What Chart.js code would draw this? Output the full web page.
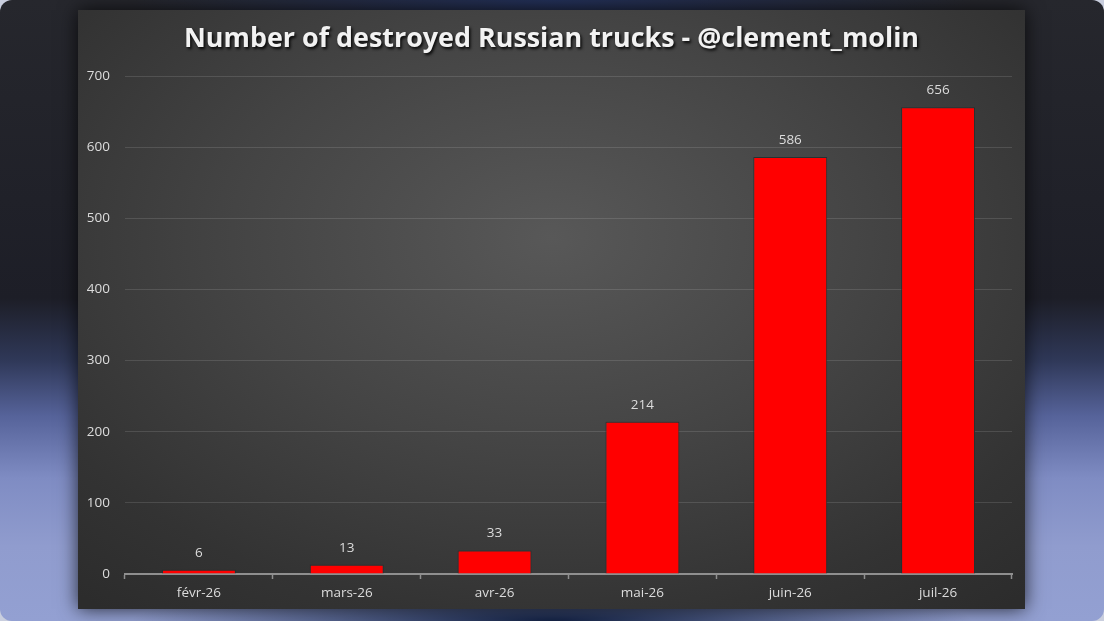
<!DOCTYPE html>
<html>
<head>
<meta charset="utf-8">
<script src="https://cdn.jsdelivr.net/npm/chart.js@4/dist/chart.umd.min.js"></script>
<style>
  html, body { margin:0; padding:0; width:1104px; height:621px; overflow:hidden; background:#c9cede; }
  #bg {
    position:absolute; left:0; top:0; width:1104px; height:621px; border-radius:12px;
    background:
      radial-gradient(ellipse 420px 60px at 50% 0%, rgba(35,50,95,0.9) 0%, rgba(35,50,95,0) 100%),
      radial-gradient(ellipse 420px 40px at 50% 100%, rgba(20,35,70,1) 0%, rgba(20,35,70,0) 100%),
      linear-gradient(to bottom, #26272d 0%, #1d1e27 48%, #2f3858 58%, #56639a 67%, #7f8cc3 77%, #909cce 88%, #93a0d2 100%);
  }
  #panel {
    position:absolute; left:78px; top:10px; width:947px; height:599px;
    background: radial-gradient(ellipse 75% 80% at 50% 38%, #585858 0%, #444444 45%, #333333 80%, #2c2c2c 100%);
    box-shadow: 0 0 18px rgba(0,0,0,0.75);
  }
  #panel canvas { display:block; }
</style>
</head>
<body>
<div id="bg"></div>
<div id="panel"><canvas id="c" width="947" height="599"></canvas></div>
<script>
const categories = ["févr-26", "mars-26", "avr-26", "mai-26", "juin-26", "juil-26"];
const truckValues = [6, 13, 33, 214, 586, 656];
const yTicks = [0, 100, 200, 300, 400, 500, 600, 700];
const chartTitle = "Number of destroyed Russian trucks - @clement_molin";

const titlePlugin = {
  id: 'shadowTitle',
  afterDraw(chart) {
    const ctx = chart.ctx;
    ctx.save();
    ctx.font = 'bold 26px "Open Sans"';
    const w = ctx.measureText(chartTitle).width;
    const target = 735;
    const sx = target / w;
    ctx.translate(chart.width / 2, 30);
    ctx.scale(sx, 1);
    ctx.textAlign = 'center';
    ctx.textBaseline = 'middle';
    ctx.shadowColor = 'rgba(0,0,0,0.9)';
    ctx.shadowBlur = 3;
    ctx.shadowOffsetX = 1.5;
    ctx.shadowOffsetY = 1.5;
    ctx.fillStyle = '#f2f2f2';
    ctx.fillText(chartTitle, 0, 0);
    ctx.restore();
  }
};

const labelPlugin = {
  id: 'valueLabels',
  afterDatasetsDraw(chart) {
    const ctx = chart.ctx;
    const meta = chart.getDatasetMeta(0);
    ctx.save();
    ctx.font = '13.5px "Open Sans"';
    ctx.fillStyle = '#dcdcdc';
    ctx.textAlign = 'center';
    ctx.textBaseline = 'middle';
    meta.data.forEach((bar, i) => {
      ctx.fillText(String(truckValues[i]), bar.x, bar.y - 17);
    });
    ctx.restore();
  }
};

new Chart(document.getElementById('c'), {
  type: 'bar',
  data: {
    labels: categories,
    datasets: [{
      data: truckValues,
      backgroundColor: '#ff0000',
      borderColor: 'rgba(30,50,50,0.9)',
      borderWidth: 1,
      categoryPercentage: 1,
      barPercentage: 0.5
    }]
  },
  options: {
    responsive: false,
    animation: false,
    devicePixelRatio: 1,
    layout: { padding: { left: 0, right: 13, top: 66, bottom: 0 } },
    plugins: { legend: { display: false }, title: { display: false }, tooltip: { enabled: false } },
    scales: {
      x: {
        afterFit(s) { s.height = 35; },
        grid: { offset: true, drawOnChartArea: false, drawTicks: true, tickLength: 5, tickColor: '#8f8f8f', tickWidth: 1.5 },
        border: { display: true, color: '#8f8f8f', width: 2 },
        ticks: { color: '#dcdcdc', font: { family: 'Open Sans', size: 13.5 }, padding: 6 }
      },
      y: {
        min: 0, max: 700,
        afterFit(s) { s.width = 47; },
        afterBuildTicks(s) { s.ticks = yTicks.map(v => ({ value: v })); },
        grid: { color: 'rgba(255,255,255,0.12)', drawTicks: false, lineWidth: 1 },
        border: { display: false },
        ticks: { color: '#dcdcdc', font: { family: 'Open Sans', size: 13.5 }, padding: 15 }
      }
    }
  },
  plugins: [titlePlugin, labelPlugin]
});
</script>
</body>
</html>
